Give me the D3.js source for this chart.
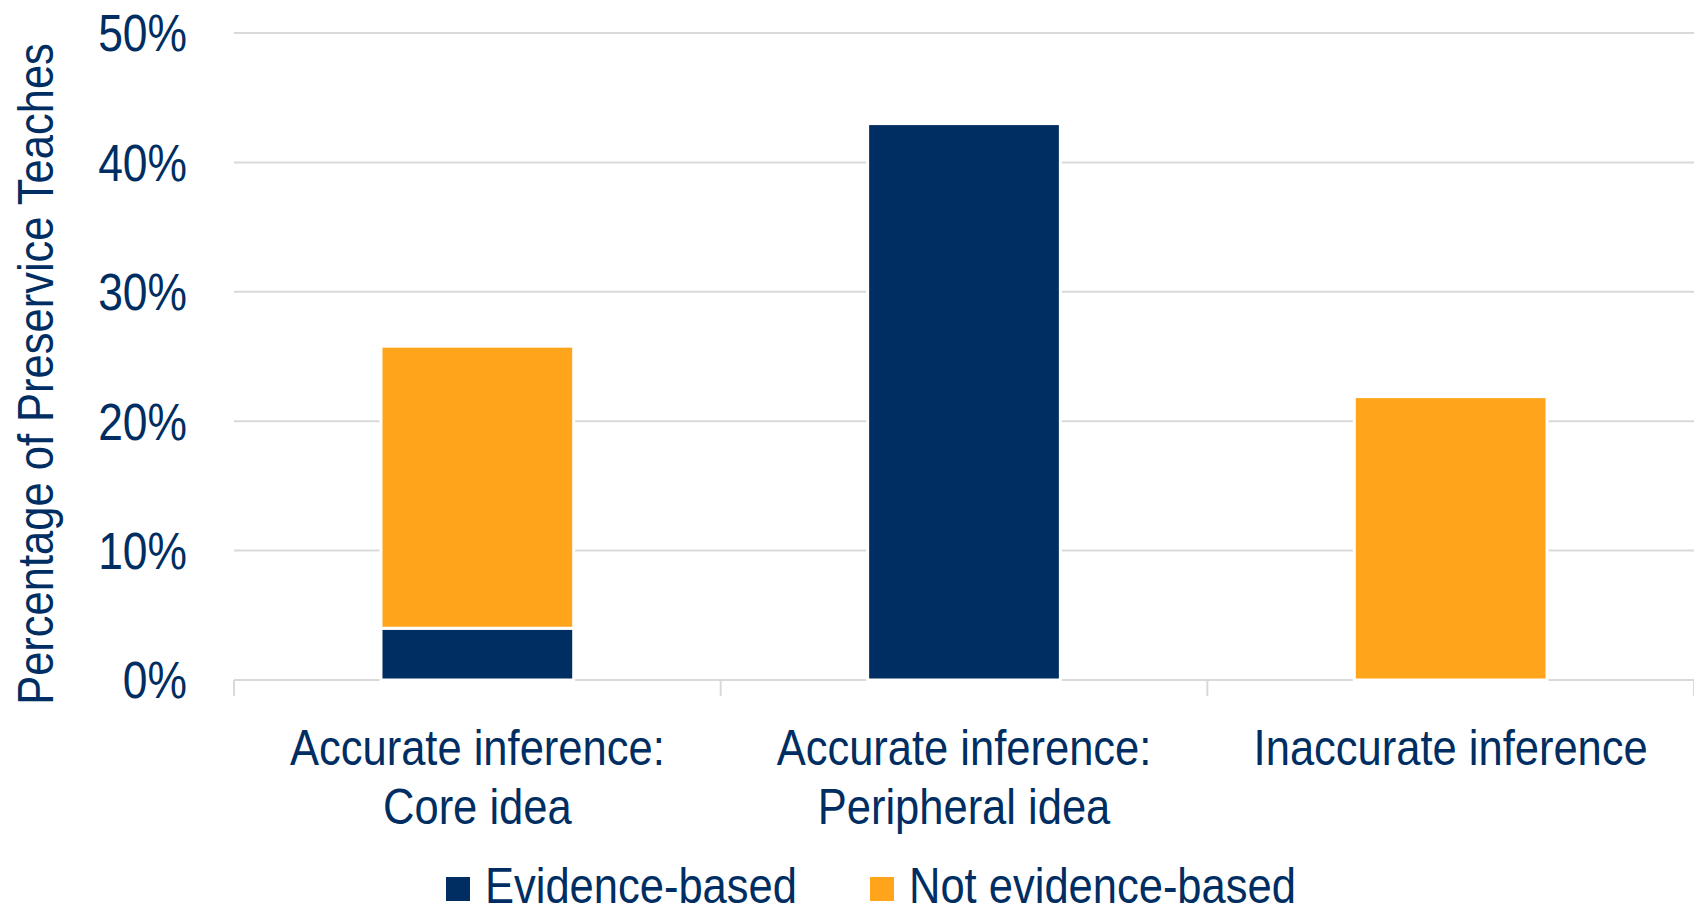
<!DOCTYPE html>
<html>
<head>
<meta charset="utf-8">
<script src="https://cdn.jsdelivr.net/npm/d3@7"></script>
<style>
  body { margin: 0; background: #fff; }
  text { font-family: "Liberation Sans Narrow", "Arial Narrow", "Liberation Sans", Arial, sans-serif; fill: #002e62; }
</style>
</head>
<body>
<svg id="chart"></svg>
<script>
const categories = [["Accurate inference:", "Core idea"], ["Accurate inference:", "Peripheral idea"], ["Inaccurate inference"]];
const seriesNames = ["Evidence-based", "Not evidence-based"];
const evidenceBased = [0.04, 0.43, 0];
const notEvidenceBased = [0.218, 0, 0.219];
const yTicks = [0, 0.1, 0.2, 0.3, 0.4, 0.5];

const colors = ["#002e62", "#ffa41b"];

const width = 1694, height = 912;
const margin = { top: 33, right: 0, bottom: 232, left: 234 };
// no narrow font installed, so squeeze the regular one
const squeeze = 0.87;

const svg = d3.select("#chart").attr("width", width).attr("height", height);

const keys = categories.map((c, i) => i);
const rows = keys.map((i) => ({ idx: i, [seriesNames[0]]: evidenceBased[i], [seriesNames[1]]: notEvidenceBased[i] }));
const stacked = d3.stack().keys(seriesNames)(rows);

const x = d3.scaleBand()
	.domain(keys)
	.range([margin.left, width - margin.right])
	.paddingInner(0.604)
	.paddingOuter(0.302);

const y = d3.scaleLinear()
	.domain([0, 0.5])
	.range([height - margin.bottom, margin.top]);

// gridlines
svg.append("g")
	.selectAll("line")
	.data(yTicks.filter((t) => t > 0))
	.join("line")
	.attr("x1", margin.left)
	.attr("x2", width - margin.right)
	.attr("y1", (d) => y(d))
	.attr("y2", (d) => y(d))
	.attr("stroke", "#d9d9d9")
	.attr("stroke-width", 2);

// category axis line + separators
const step = x.step();
svg.append("line")
	.attr("x1", margin.left)
	.attr("x2", width - margin.right)
	.attr("y1", y(0))
	.attr("y2", y(0))
	.attr("stroke", "#d9d9d9")
	.attr("stroke-width", 2);

svg.append("g")
	.selectAll("line")
	.data(d3.range(categories.length + 1))
	.join("line")
	.attr("x1", (d) => margin.left + d * step)
	.attr("x2", (d) => margin.left + d * step)
	.attr("y1", y(0))
	.attr("y2", y(0) + 16)
	.attr("stroke", "#d9d9d9")
	.attr("stroke-width", 2);

// bars
svg.append("g")
	.selectAll("g")
	.data(stacked)
	.join("g")
	.attr("fill", (d, i) => colors[i])
	.selectAll("rect")
	.data((d) => d.filter((p) => p[1] - p[0] > 0))
	.join("rect")
	.attr("x", (d) => x(d.data.idx))
	.attr("width", x.bandwidth())
	.attr("y", (d) => y(d[1]))
	.attr("height", (d) => y(d[0]) - y(d[1]))
	.attr("stroke", "#fff")
	.attr("stroke-width", 3);

// y tick labels
svg.append("g")
	.selectAll("text")
	.data(yTicks)
	.join("text")
	.attr("transform", (d) => `translate(187, ${y(d)}) scale(${squeeze}, 1)`)
	.attr("dy", "0.36em")
	.attr("text-anchor", "end")
	.attr("font-size", 51)
	.text((d) => d3.format(".0%")(d));

// category labels
const catLabels = svg.append("g")
	.selectAll("text")
	.data(keys)
	.join("text")
	.attr("text-anchor", "middle")
	.attr("font-size", 50)
	.attr("transform", (d) => `translate(${x(d) + x.bandwidth() / 2}, 765) scale(${squeeze}, 1)`);
catLabels.selectAll("tspan")
	.data((d) => categories[d])
	.join("tspan")
	.attr("x", 0)
	.attr("dy", (d, i) => (i === 0 ? 0 : 59))
	.text((d) => d);

// y axis title
svg.append("text")
	.attr("transform", `translate(53, 374) rotate(-90) scale(${squeeze}, 1)`)
	.attr("text-anchor", "middle")
	.attr("font-size", 50)
	.text("Percentage of Preservice Teaches");

// legend
const legendItems = [
	{ name: seriesNames[0], color: colors[0], x: 446 },
	{ name: seriesNames[1], color: colors[1], x: 870 },
];
const legend = svg.append("g")
	.selectAll("g")
	.data(legendItems)
	.join("g")
	.attr("transform", (d) => `translate(${d.x}, 0)`);
legend.append("rect")
	.attr("x", 0)
	.attr("y", 877)
	.attr("width", 24)
	.attr("height", 24)
	.attr("fill", (d) => d.color);
legend.append("text")
	.attr("transform", `translate(39, 903) scale(${squeeze}, 1)`)
	.attr("font-size", 50)
	.text((d) => d.name);
</script>
</body>
</html>
